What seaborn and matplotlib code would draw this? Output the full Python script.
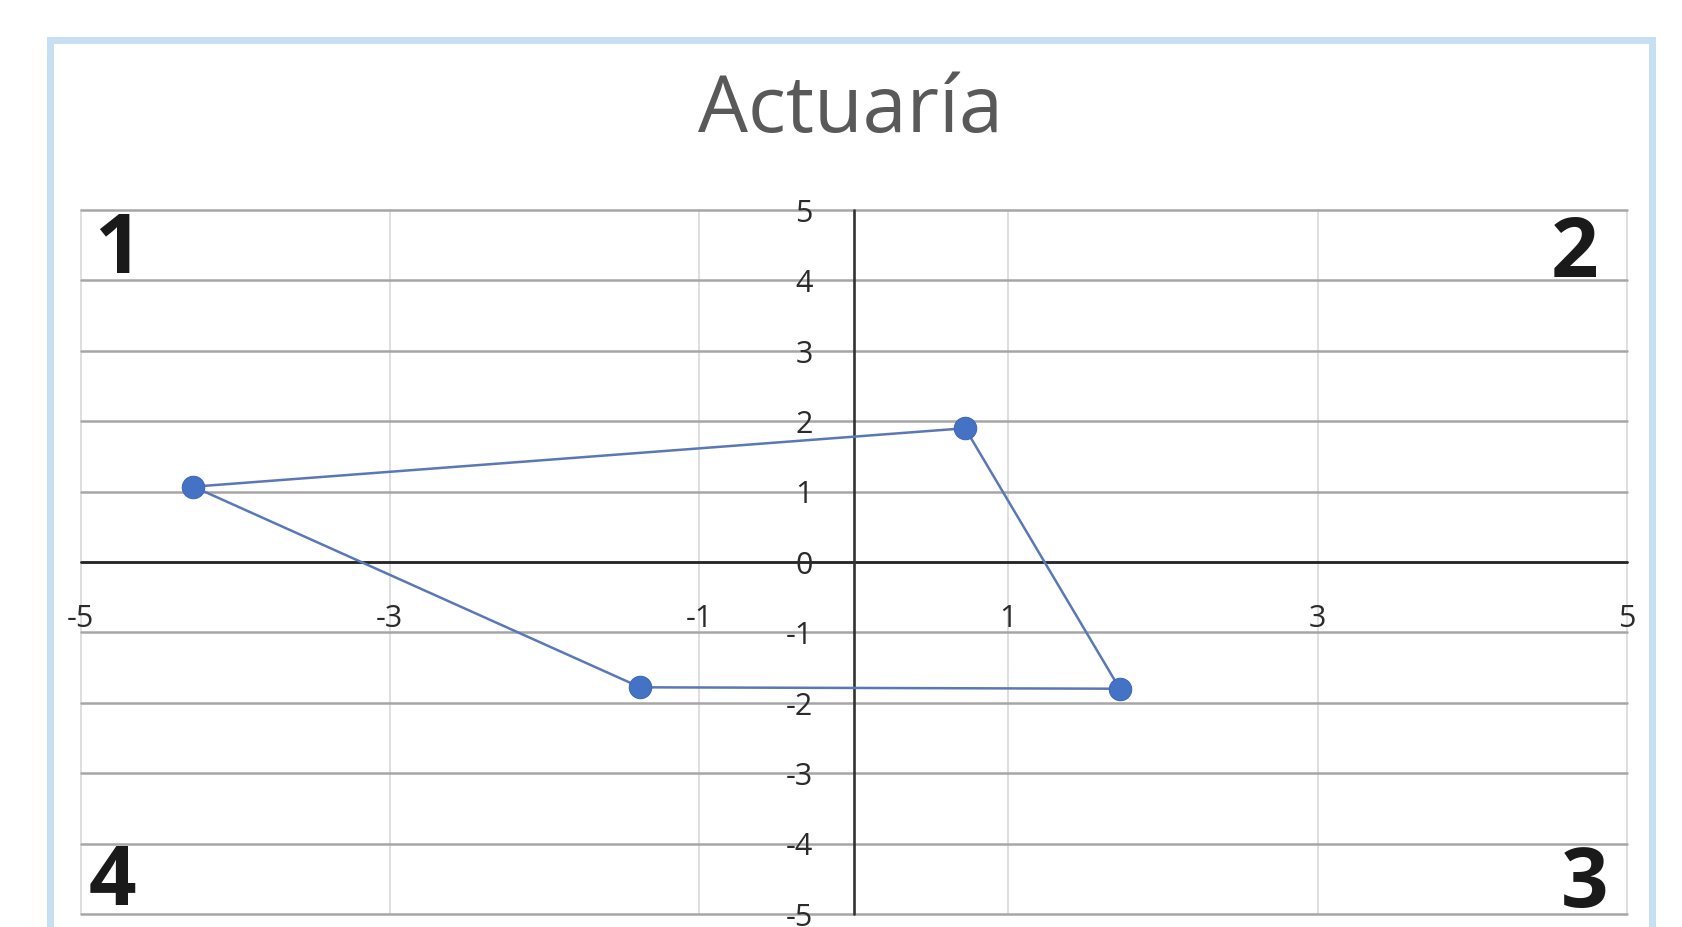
import matplotlib
matplotlib.use("Agg")
import matplotlib.pyplot as plt
import matplotlib.patches as mpatches
import seaborn as sns
import pandas as pd

# ---- data ----
title = "Actuaría"
x_vals = [-4.27, 0.72, 1.72, -1.38, -4.27]
y_vals = [1.07, 1.90, -1.80, -1.78, 1.07]
x_ticks = [-5, -3, -1, 1, 3, 5]
y_ticks = [5, 4, 3, 2, 1, 0, -1, -2, -3, -4, -5]
quadrant_labels = ["1", "2", "3", "4"]

sns.set_theme(style="white")
plt.rcParams['font.family'] = ['Open Sans', 'DejaVu Sans']

W, H = 1682, 928
fig = plt.figure(figsize=(W / 100, H / 100), dpi=100)
fig.patch.set_facecolor("white")

# outer light-blue frame
frame = mpatches.Rectangle((50 / W, -0.05), (1652 - 50) / W, (1 - 41 / H) + 0.05,
                           transform=fig.transFigure, fill=False,
                           edgecolor="#c6dff3", linewidth=5, clip_on=False)
fig.patches.append(frame)

ax = fig.add_axes([80.5 / W, (H - 915) / H, 1546.5 / W, 704 / H])
ax.set_xlim(-5, 5)
ax.set_ylim(-5, 5)
ax.set_axis_off()

# grid
for yv in y_ticks:
    ax.plot([-5, 5], [yv, yv], color="#a6a6a6", lw=1.8, zorder=1, clip_on=False)
for xv in x_ticks:
    ax.plot([xv, xv], [-5, 5], color="#d9d9d9", lw=1.2, zorder=0.9, clip_on=False)
# axes lines
ax.plot([-5, 5], [0, 0], color="#262626", lw=2.0, zorder=2, clip_on=False)
ax.plot([0, 0], [-5, 5], color="#333333", lw=1.9, zorder=2, clip_on=False)

# tick labels
for yv in y_ticks:
    ax.text(-0.265, yv - 0.04, str(yv), ha="right", va="center", fontsize=22,
            color="#2b2b2b", zorder=3)
for xv in x_ticks:
    ax.text(xv, -0.8, str(xv), ha="center", va="center", fontsize=22,
            color="#2b2b2b", zorder=3)

# data series
df = pd.DataFrame({"x": x_vals, "y": y_vals})
sns.lineplot(data=df, x="x", y="y", sort=False, estimator=None, ax=ax,
             color="#5a78b8", lw=1.8, zorder=4)
sns.scatterplot(data=df.iloc[:-1], x="x", y="y", ax=ax, color="#4472c4",
                s=260, edgecolor="#3f68b8", linewidth=0.8, zorder=5)
ax.set_xlabel("")
ax.set_ylabel("")

# quadrant labels
qpos = [(0.0242, 0.912), (0.966, 0.906), (0.9728, 0.011), (0.0204, 0.0142)]
for lab, (qx, qy) in zip(quadrant_labels, qpos):
    ax.text(qx, qy, lab, transform=ax.transAxes, ha="center", va="baseline",
            fontsize=60, fontweight="bold", color="#1a1a1a", zorder=6)

fig.text(851 / W, 1 - 132 / H, title, ha="center", va="baseline",
         fontsize=57, color="#595959")

fig.savefig("out.png", dpi=100, facecolor="white")
